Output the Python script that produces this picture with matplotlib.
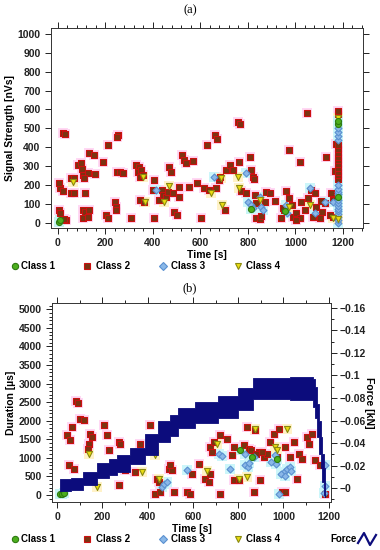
import matplotlib.pyplot as plt
from matplotlib.lines import Line2D
from matplotlib.ticker import MultipleLocator, FixedLocator

plt.rcParams['font.family'] = ['Liberation Sans', 'DejaVu Sans']

# ---------------- panel (a): signal strength vs time ----------------
sig_c1_t = [5, 10, 812, 955, 1180, 1181, 1179]
sig_c1_s = [5, 14, 70, 60, 520, 540, 135]

sig_c2_t = [21, 30, 253, 248, 661, 671, 758, 765, 1048,
            11, 7, 21, 7, 11, 35, 25, 56, 70, 56, 70, 84, 98, 102, 105, 126, 112, 116,
            133, 154, 158, 105, 116, 130, 105, 126, 189, 211, 204, 211, 239, 246, 243,
            248, 260, 274, 309, 330, 341, 337, 351, 347, 358, 344, 361, 403, 400, 403,
            425, 439, 442, 456, 463, 467, 477, 484, 491, 501, 512, 509, 523, 533, 540,
            554, 568, 585, 604, 614, 628, 636, 667, 678, 681, 702, 709, 723, 737, 762,
            772, 793, 807, 814, 821, 824, 828, 835, 835, 849, 856, 870, 877, 891, 912,
            940, 954, 961, 972, 975, 986, 989, 1004, 1018, 1018, 1039, 1053, 1067, 1074,
            1081, 1088, 1102, 1112, 1123, 1130, 1151, 1158, 1165, 1169, 1158, 1144, 1109,
            1004, 1025, 947,
            1178, 1178, 1178, 1178, 1178, 1178, 1178, 1178, 1178, 1178, 1178, 1178]
sig_c2_s = [475, 468, 464, 452, 464, 445, 534, 525, 581,
            182, 208, 168, 67, 50, 14, 18, 235, 235, 159, 155, 305, 314, 283, 253, 261, 235, 159,
            371, 359, 256, 67, 58, 67, 23, 28, 323, 412, 41, 27, 111, 85, 67,
            270, 270, 265, 23, 305, 297, 270, 279, 244, 253, 120, 111, 226, 173, 23,
            120, 173, 147, 138, 164, 297, 270, 155, 58, 41, 138, 191, 359, 332, 314,
            191, 329, 208, 23, 182, 412, 173, 182, 226, 244, 67, 279, 305, 279, 323,
            168, 155, 350, 279, 244, 230, 147, 102, 23, 18, 35, 111, 164, 155, 117,
            23, 67, 170, 385, 129, 94, 32, 50, 23, 323, 67, 129, 173, 32,
            155, 85, 23, 58, 102, 346, 155, 120, 276, 417, 32, 41, 117,
            14, 111, 76,
            230, 250, 270, 290, 310, 330, 350, 370, 390, 410, 575, 590]

sig_c3_t = [657, 793, 800, 814, 821, 849, 856, 863, 961, 965, 1060, 1081, 1123, 1158, 414,
            1181, 1181, 1181, 1181, 1181, 1181, 1181, 1181, 1181, 1181, 1181, 1181, 1181,
            1181, 1181, 1181, 1181]
sig_c3_s = [244, 261, 111, 94, 76, 138, 85, 67, 94, 50, 182, 50, 111, 111, 173,
            0, 15, 30, 45, 60, 75, 90, 105, 120, 150, 165, 180, 200, 440, 460, 480, 500]

sig_c4_t = [66, 358, 365, 449, 467, 646, 688, 692, 758, 762, 849, 975, 1060, 1158, 1180, 1180]
sig_c4_s = [217, 244, 111, 111, 194, 155, 235, 94, 244, 182, 120, 85, 94, 23, 20, 555]

# ---------------- panel (b): duration and force vs time ----------------
dur_c1_t = [15, 22, 30, 809, 861, 971]
dur_c1_s = [20, 35, 55, 1203, 1023, 978]

dur_c2_t = [84, 92, 103, 118, 44, 59, 66, 147, 155, 140, 135, 51, 74, 206, 221, 228, 272,
            280, 272, 302, 346, 368, 412, 441, 449, 434, 456, 493, 508, 500, 515, 574, 589,
            596, 625, 655, 670, 677, 677, 684, 692, 721, 721, 750, 773, 780, 780, 802, 824,
            839, 846, 868, 876, 890, 898, 912, 927, 942, 957, 979, 971, 993, 1008, 1008,
            1030, 1045, 1060, 1067, 1082, 1104, 1111, 1126, 1141, 1163, 1185, 855, 880, 905]
dur_c2_s = [2530, 2480, 2059, 2013, 1608, 1473, 1833, 1653, 1563, 1383, 1248, 797, 707,
            1878, 1608, 1203, 1428, 1383, 257, 662, 617, 1383, 1878, 437, 347, 30, 80, 707,
            662, 797, 77, 77, 32, 572, 842, 437, 347, 572, 1293, 1158, 1428, 1608, 32, 1518,
            1068, 1293, 392, 392, 1338, 1833, 1248, 77, 1743, 1158, 392, 1023, 1113, 1428,
            1653, 1788, 1023, 77, 77, 1293, 1023, 1428, 437, 1113, 978, 1563, 1383, 1653,
            932, 797, 30, 1200, 1100, 1150]

dur_c3_t = [464, 471, 486, 574, 714, 728, 765, 831, 845, 868, 964, 979, 1001, 1015, 1030,
            990, 830, 850, 945, 965, 1005, 1035, 1183, 1185, 1178]
dur_c3_s = [212, 302, 350, 662, 1113, 1050, 707, 797, 760, 1023, 1068, 32, 617, 707, 740,
            560, 1100, 850, 900, 820, 520, 650, 800, 250, 60]

dur_c4_t = [140, 177, 375, 434, 449, 662, 706, 802, 839, 876, 964, 971, 1015]
dur_c4_s = [1113, 212, 617, 1068, 437, 632, 1383, 437, 482, 1788, 1293, 1200, 1788]

force_t = [15, 60, 115, 175, 230, 263, 322, 388, 447, 500, 535, 609, 712, 800, 867,
           1030, 1130, 1140, 1150, 1158, 1165, 1172, 1178, 1184]
force_lo = [-0.003, -0.002, 0.003, 0.009, 0.012, 0.014, 0.021, 0.029, 0.041, 0.046,
            0.053, 0.058, 0.062, 0.069, 0.079, 0.078, 0.072, 0.062, 0.045, 0.030,
            0.018, 0.005, -0.006, -0.008]
force_hi = [0.008, 0.009, 0.014, 0.022, 0.026, 0.029, 0.036, 0.048, 0.060, 0.065,
            0.071, 0.076, 0.082, 0.089, 0.098, 0.099, 0.097, 0.090, 0.075, 0.060,
            0.045, 0.030, 0.018, 0.005]

force_ticks = [0, 0.02, 0.04, 0.06, 0.08, 0.1, 0.12, 0.14, 0.16]
force_labels = ['\u22120', '\u22120.02', '\u22120.04', '\u22120.06', '\u22120.08',
                '\u22120.1', '\u22120.12', '\u22120.14', '\u22120.16']

# class styles: marker, face, edge, halo
styles = {
    'Class 1': ('o', '#4caf1e', '#2d7a10', '#c8f5f5'),
    'Class 2': ('s', '#7a3412', '#cc1010', '#ffd8f4'),
    'Class 3': ('D', '#8ab8e8', '#5a90d0', '#ccf6fa'),
    'Class 4': ('v', '#eadc10', '#8a8a10', '#fff2c8'),
}
NAVY = '#0c0c7c'


def scatter_class(ax, t, v, name, size=19):
    mk, fc, ec, halo = styles[name]
    ax.scatter(t, v, s=size * 3.0, marker='s', color=halo, lw=0, zorder=1)
    if mk == 'D':
        size = size * 0.65
    ax.scatter(t, v, s=size, marker=mk, facecolor=fc, edgecolor=ec, lw=0.8, zorder=3)


def style_axes(ax):
    for sp in ax.spines.values():
        sp.set_linewidth(0.7)
        sp.set_color('#333333')
    ax.tick_params(which='both', direction='out', top=True, width=0.7, colors='#222222')
    ax.tick_params(which='major', length=4)
    ax.tick_params(which='minor', length=2)
    for lab in ax.get_xticklabels() + ax.get_yticklabels():
        lab.set_fontsize(7.5)
        lab.set_fontweight('bold')


def legend_row(fig, y, with_force=False):
    items = [('Class 1', 15, 21), ('Class 2', 87, 96), ('Class 3', 163, 171), ('Class 4', 238, 246)]
    for name, mx, tx in items:
        mk, fc, ec, halo = styles[name]
        fig.add_artist(Line2D([mx / 380], [y], marker=mk, markersize=4.5, markerfacecolor=fc,
                              markeredgecolor=ec, markeredgewidth=0.8, linestyle='none',
                              transform=fig.transFigure))
        fig.text(tx / 380, y, name, fontsize=7, fontweight='bold', va='center', ha='left')
    if with_force:
        fig.text(330 / 380, y, 'Force', fontsize=7, fontweight='bold', va='center', ha='left')
        xs = [358, 364, 370, 376]
        ys = [543, 533, 545, 535]
        fig.add_artist(Line2D([x / 380 for x in xs], [1 - v / 550 for v in ys], color=NAVY,
                              lw=1.6, transform=fig.transFigure))


fig = plt.figure(figsize=(3.8, 5.5), dpi=100)

# ---- (a)
ax1 = fig.add_axes([0.134, 0.5855, 0.821, 0.3636])
scatter_class(ax1, sig_c2_t, sig_c2_s, 'Class 2')
scatter_class(ax1, sig_c3_t, sig_c3_s, 'Class 3')
scatter_class(ax1, sig_c4_t, sig_c4_s, 'Class 4')
scatter_class(ax1, sig_c1_t, sig_c1_s, 'Class 1')
ax1.set_xlim(-29, 1284)
ax1.set_ylim(-28, 1031)
ax1.xaxis.set_major_locator(MultipleLocator(200))
ax1.xaxis.set_minor_locator(MultipleLocator(40))
ax1.yaxis.set_major_locator(MultipleLocator(100))
ax1.tick_params(right=True)
style_axes(ax1)
ax1.set_xlabel('Time [s]', fontsize=7.5, fontweight='bold', labelpad=1)
ax1.set_ylabel('Signal Strength [nVs]', fontsize=7.5, fontweight='bold', labelpad=2)
fig.text(0.5, 1 - 10 / 550, '(a)', family='Liberation Serif', fontsize=9, ha='center', va='center')
legend_row(fig, 1 - 266 / 550)

# ---- (b)
ax2 = fig.add_axes([0.137, 0.0873, 0.734, 0.3624])
scatter_class(ax2, dur_c2_t, dur_c2_s, 'Class 2')
scatter_class(ax2, dur_c3_t, dur_c3_s, 'Class 3')
scatter_class(ax2, dur_c4_t, dur_c4_s, 'Class 4')
scatter_class(ax2, dur_c1_t, dur_c1_s, 'Class 1')
ax2.set_xlim(-22, 1210)
ax2.set_ylim(-190, 5180)
ax2.xaxis.set_major_locator(MultipleLocator(200))
ax2.xaxis.set_minor_locator(MultipleLocator(100))
ax2.yaxis.set_major_locator(MultipleLocator(500))
ax2.yaxis.set_minor_locator(MultipleLocator(100))
style_axes(ax2)
ax2.tick_params(right=False)
ax2.set_xlabel('Time [s]', fontsize=7.5, fontweight='bold', labelpad=1)
ax2.set_ylabel('Duration [\u00b5s]', fontsize=7.5, fontweight='bold', labelpad=2)

ax3 = ax2.twinx()
ax3.fill_between(force_t, force_lo, force_hi, step='post', color=NAVY, lw=0.6, edgecolor=NAVY)
ax3.set_ylim(-0.0124, 0.1647)
ax3.yaxis.set_major_locator(FixedLocator(force_ticks))
ax3.set_yticklabels(force_labels)
ax3.yaxis.set_minor_locator(MultipleLocator(0.01))
for sp in ax3.spines.values():
    sp.set_visible(False)
ax3.tick_params(which='both', direction='out', width=0.7, colors='#222222', pad=2)
ax3.tick_params(which='major', length=4)
ax3.tick_params(which='minor', length=2)
for lab in ax3.get_yticklabels():
    lab.set_fontsize(7.5)
    lab.set_fontweight('bold')
ax3.set_ylabel('Force [kN]', fontsize=7.5, fontweight='bold', rotation=270, labelpad=6)
fig.text(0.5, 1 - 288 / 550, '(b)', family='Liberation Serif', fontsize=9, ha='center', va='center')
legend_row(fig, 1 - 539 / 550, with_force=True)

fig.savefig('out.png', dpi=100)
